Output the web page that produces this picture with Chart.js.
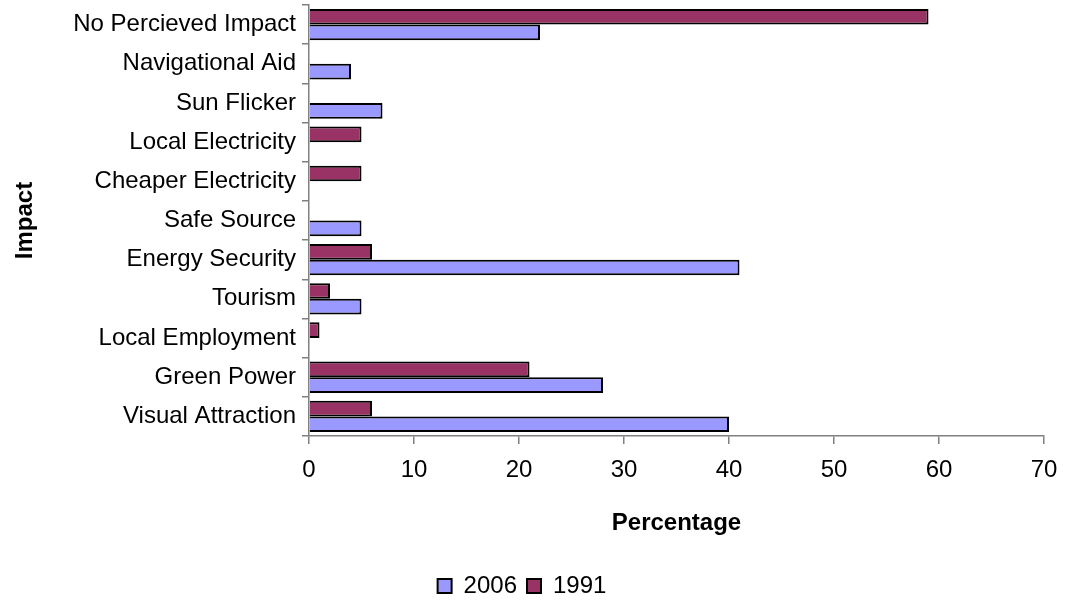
<!DOCTYPE html>
<html>
<head>
<meta charset="utf-8">
<title>Impact by percentage</title>
<script src="https://cdn.jsdelivr.net/npm/chart.js@4"></script>
<style>
  body { margin: 0; overflow: hidden; background: #fff; }
  #wrap { width: 1066px; height: 608px; }
</style>
</head>
<body>
<div id="wrap"><canvas id="myChart"></canvas></div>
<script>
// Categories, top to bottom
const impacts = [
  "No Percieved Impact", "Navigational Aid", "Sun Flicker", "Local Electricity",
  "Cheaper Electricity", "Safe Source", "Energy Security", "Tourism",
  "Local Employment", "Green Power", "Visual Attraction"
];

// Percentages (null = no bar)
const values1991 = [59, null, null, 5, 5, null, 6, 2, 1, 21, 6];
const values2006 = [22, 4, 7, null, null, 5, 41, 5, null, 28, 40];

const xTicks = [0, 10, 20, 30, 40, 50, 60, 70];

const FONT = "'Liberation Sans', Arial, sans-serif";
const axisGrey = "#808080";

const ctx = document.getElementById("myChart").getContext("2d");
new Chart(ctx, {
  type: "bar",
  data: {
    labels: impacts,
    datasets: [
      {
        label: "1991",
        data: values1991,
        backgroundColor: "#993366",
        borderColor: "#000",
        borderWidth: 2,
        categoryPercentage: 0.8,
        barPercentage: 1.0
      },
      {
        label: "2006",
        data: values2006,
        backgroundColor: "#9999FF",
        borderColor: "#000",
        borderWidth: 2,
        categoryPercentage: 0.8,
        barPercentage: 1.0
      }
    ]
  },
  options: {
    indexAxis: "y",
    responsive: true,
    maintainAspectRatio: false,
    animation: false,
    layout: { padding: { top: 5, right: 22, left: 0, bottom: 0 } },
    scales: {
      x: {
        min: xTicks[0],
        max: xTicks[xTicks.length - 1],
        afterBuildTicks: (scale) => { scale.ticks = xTicks.map(v => ({ value: v })); },
        afterFit: (scale) => {
          scale.height = 128;
          scale.paddingLeft = 0;
          scale.paddingRight = 0;
        },
        grid: { drawOnChartArea: false, drawTicks: true, tickLength: 8, color: axisGrey, lineWidth: 1.5 },
        border: { color: axisGrey, width: 1.5 },
        ticks: { color: "#000", padding: 12, font: { family: FONT, size: 24 } },
        title: {
          display: true,
          text: "Percentage",
          color: "#000",
          font: { family: FONT, size: 24, weight: "bold" },
          padding: { top: 0, bottom: 26 }
        }
      },
      y: {
        afterFit: (scale) => {
          scale.width = 309;
          scale.paddingTop = 0;
          scale.paddingBottom = 0;
        },
        grid: { drawOnChartArea: false, drawTicks: true, tickLength: 7, color: axisGrey, lineWidth: 1.5 },
        border: { color: axisGrey, width: 1.5 },
        ticks: { color: "#000", padding: 6, autoSkip: false, font: { family: FONT, size: 24 } },
        title: {
          display: true,
          text: "Impact",
          color: "#000",
          font: { family: FONT, size: 24, weight: "bold" },
          padding: { top: 11, bottom: 0 }
        }
      }
    },
    plugins: {
      legend: {
        display: true,
        position: "bottom",
        reverse: true,
        labels: {
          color: "#000",
          boxWidth: 14,
          boxHeight: 14,
          padding: 10,
          font: { family: FONT, size: 24 }
        }
      },
      tooltip: { enabled: false }
    }
  }
});
</script>
</body>
</html>
